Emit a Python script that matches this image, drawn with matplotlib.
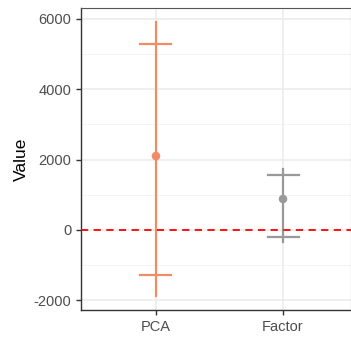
import matplotlib
matplotlib.use("Agg")
import matplotlib.pyplot as plt
import numpy as np

plt.rcParams['font.family'] = ['Liberation Sans', 'DejaVu Sans']

categories = ["PCA", "Factor"]
point_vals = [2100, 880]
range_low = [-1875, -350]
range_high = [5900, 1724]
ci_low = [-1278, -199]
ci_high = [5290, 1571]
colors = ["#F28C64", "#999999"]

fig = plt.figure(figsize=(3.51, 3.40), dpi=100)
ax = fig.add_axes([81/351, 30/340, (351-81)/351, (310-8)/340])

x = np.arange(1, len(categories) + 1)

# grid
for yv in [-1000, 1000, 3000, 5000]:
    ax.axhline(yv, color="#F2F2F2", lw=0.6, zorder=0)
for yv in [-2000, 0, 2000, 4000, 6000]:
    ax.axhline(yv, color="#EBEBEB", lw=1.1, zorder=0)
for xv in x:
    ax.axvline(xv, color="#EBEBEB", lw=1.1, zorder=0)

for i in range(len(categories)):
    c = colors[i]
    ax.plot([x[i], x[i]], [range_low[i], range_high[i]], color=c, lw=1.6, zorder=3)
    for yv in (ci_low[i], ci_high[i]):
        ax.plot([x[i] - 0.122, x[i] + 0.122], [yv, yv], color=c, lw=1.6, zorder=3)
    ax.scatter([x[i]], [point_vals[i]], color=c, s=38, zorder=4, edgecolors='none')

ax.axhline(0, color="#FF0000", lw=1.3, ls=(0, (4, 3)), zorder=5)

ax.set_xlim(0.41, 2.535)
ax.set_ylim(-2273, 6307)
ax.set_xticks(x)
ax.set_xticklabels(categories)
ax.set_yticks([-2000, 0, 2000, 4000, 6000])
ax.set_yticklabels(["-2000", "0", "2000", "4000", "6000"])
ax.tick_params(axis='both', colors="#333333", labelcolor="#4D4D4D", labelsize=10.5, length=3.5, width=1)
ax.set_ylabel("Value", fontsize=12.5, color="black", labelpad=3)

for s in ['left', 'bottom']:
    ax.spines[s].set_color("#333333")
    ax.spines[s].set_linewidth(1)
for s in ['top', 'right']:
    ax.spines[s].set_color("#555555")
    ax.spines[s].set_linewidth(0.8)

fig.savefig("out.png", dpi=100)
